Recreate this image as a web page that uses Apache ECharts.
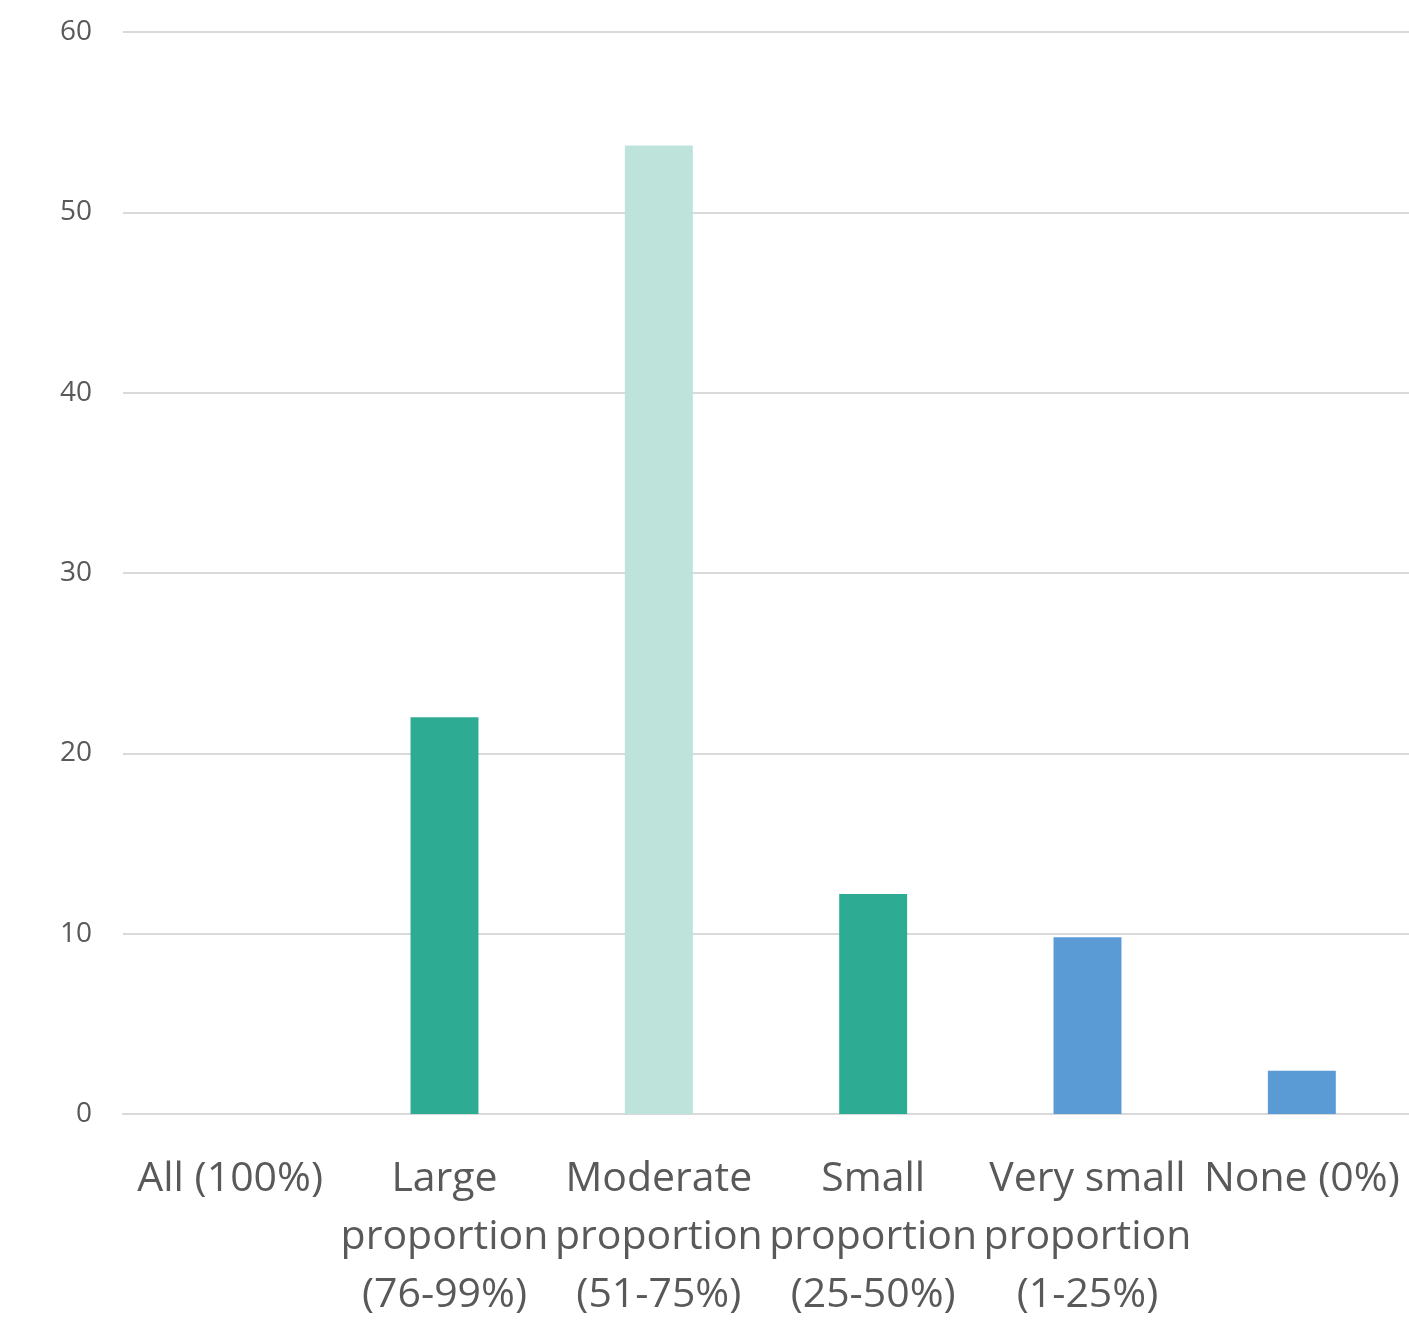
<!DOCTYPE html>
<html>
<head>
<meta charset="utf-8">
<script src="https://cdn.jsdelivr.net/npm/echarts@6/dist/echarts.min.js"></script>
<style>
  html, body { margin: 0; padding: 0; background: #ffffff; }
  #chart { width: 1409px; height: 1324px; }
</style>
</head>
<body>
<div id="chart"></div>
<script>
// Share of respondents by proportion category
const categories = [
  'All (100%)',
  'Large\nproportion\n(76-99%)',
  'Moderate\nproportion\n(51-75%)',
  'Small\nproportion\n(25-50%)',
  'Very small\nproportion\n(1-25%)',
  'None (0%)'
];
const values = [0, 22, 53.7, 12.2, 9.8, 2.4];
const barColors = ['#2EAC93', '#2EAC93', '#BEE3DB', '#2EAC93', '#5B9BD5', '#5B9BD5'];
const yTicks = { min: 0, max: 60, interval: 10 };

const chart = echarts.init(document.getElementById('chart'), null, { renderer: 'canvas' });
chart.setOption({
  animation: false,
  backgroundColor: '#ffffff',
  grid: { left: 123, right: 0, top: 32, bottom: 204, containLabel: false },
  xAxis: {
    type: 'category',
    data: categories,
    axisLine: { show: true, lineStyle: { color: '#d9d9d9', width: 2 } },
    axisTick: { show: false },
    axisLabel: {
      interval: 0,
      margin: 36,
      color: '#595959',
      fontFamily: 'Open Sans',
      fontSize: 41,
      lineHeight: 58
    }
  },
  yAxis: {
    type: 'value',
    min: yTicks.min,
    max: yTicks.max,
    interval: yTicks.interval,
    axisLine: { show: false },
    axisTick: { show: false },
    axisLabel: { color: '#595959', fontFamily: 'Open Sans', fontSize: 28, margin: 31 },
    splitLine: { lineStyle: { color: '#d9d9d9', width: 2 } }
  },
  series: [{
    type: 'bar',
    barWidth: '31.7%',
    data: values.map((v, i) => ({ value: v, itemStyle: { color: barColors[i] } }))
  }]
});
</script>
</body>
</html>
